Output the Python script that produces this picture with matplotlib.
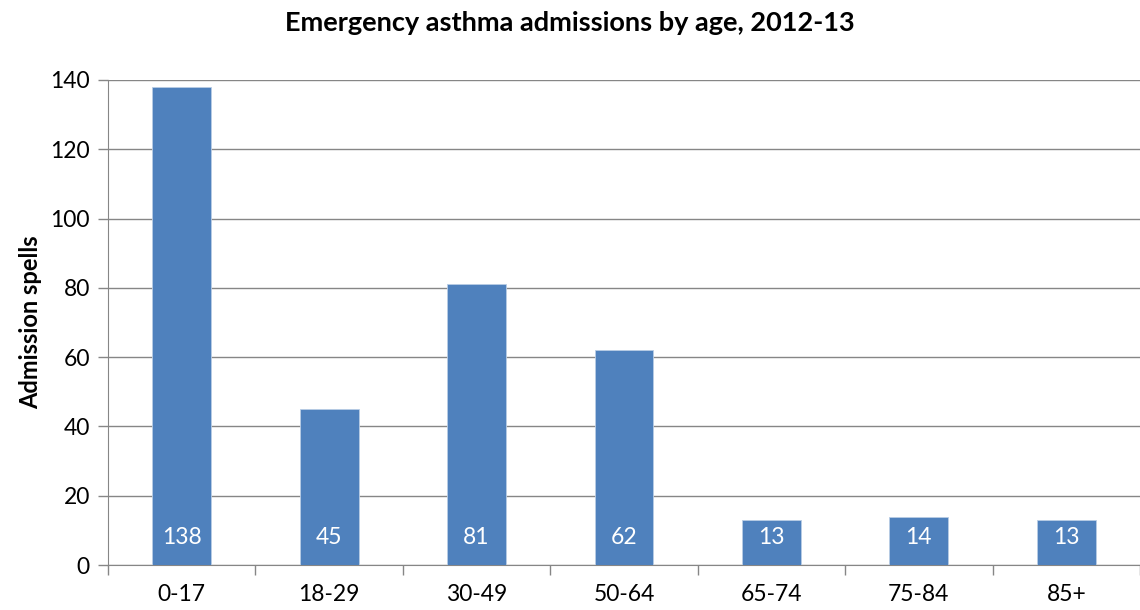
import matplotlib
matplotlib.use("Agg")
import matplotlib.pyplot as plt
import numpy as np

plt.rcParams['font.family'] = ['Lato', 'DejaVu Sans']

age_groups = ["0-17", "18-29", "30-49", "50-64", "65-74", "75-84", "85+"]
admissions = [138, 45, 81, 62, 13, 14, 13]
y_ticks = [0, 20, 40, 60, 80, 100, 120, 140]

bar_color = "#4F81BD"
grid_color = "#868686"

fig = plt.figure(figsize=(11.4, 6.1), dpi=100)
ax = fig.add_axes([108 / 1140, 45 / 610, 1 - 108 / 1140, 485 / 610])

x = np.arange(len(age_groups))
bars = ax.bar(x, admissions, width=0.4, color=bar_color, edgecolor="#B9CDE5",
              linewidth=0.6, zorder=3)

for xi, v in zip(x, admissions):
    ax.text(xi, 8.0, str(v), ha="center", va="center", color="white",
            fontsize=16.5, zorder=4)

ax.set_xlim(-0.5, len(age_groups) - 0.5)
ax.set_ylim(0, 140)
ax.set_yticks(y_ticks)
ax.tick_params(axis="y", labelsize=16.5, length=7, color=grid_color, width=1, pad=6)

# category labels centred under bars, tick marks at category boundaries
ax.set_xticks(x)
ax.set_xticklabels(age_groups, fontsize=16.5)
ax.tick_params(axis="x", which="major", length=0, pad=14)
ax.set_xticks(np.arange(len(age_groups) + 1) - 0.5, minor=True)
ax.tick_params(axis="x", which="minor", length=7, color=grid_color, width=1)

ax.yaxis.grid(True, color=grid_color, linewidth=1, zorder=0)
for side in ["top", "right"]:
    ax.spines[side].set_visible(False)
ax.spines["left"].set_color(grid_color)
ax.spines["bottom"].set_color(grid_color)

ax.set_ylabel("Admission spells", fontsize=17, fontweight="bold", labelpad=6)
fig.text(0.5, 1 - 23 / 610, "Emergency asthma admissions by age, 2012-13",
         ha="center", va="center", fontsize=19.5, fontweight="bold")

fig.savefig("out.png", dpi=100)
